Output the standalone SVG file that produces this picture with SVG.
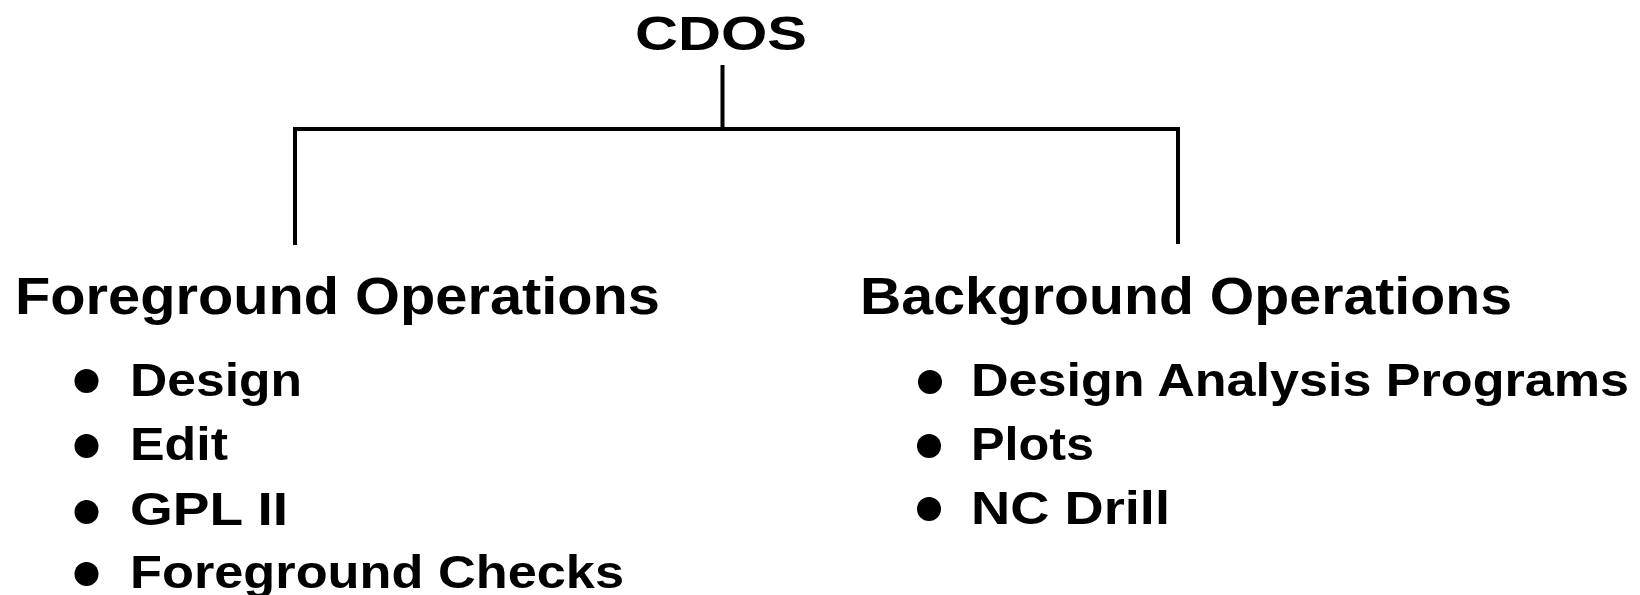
<svg xmlns="http://www.w3.org/2000/svg" width="1640" height="595" viewBox="0 0 1640 595">
<style>
text{font-family:"Liberation Sans",Arial,sans-serif;font-weight:bold;fill:#000}
.t{font-size:48px}
.h{font-size:51px}
.i{font-size:47px}
.c{stroke:#000;stroke-width:4;fill:none}
.b{fill:#000}
</style>
<rect width="1640" height="595" fill="#fff"/>
<g id="connectors">
<path class="c" d="M722.5 65 V129 M295 245 V129 H1178 V244"/>
</g>
<g id="cdos"><text class="t" x="635" y="50" textLength="172" lengthAdjust="spacingAndGlyphs">CDOS</text></g>
<g id="foreground">
<text class="h" x="15" y="314" textLength="645" lengthAdjust="spacingAndGlyphs">Foreground Operations</text>
<circle class="b" cx="86.5" cy="381" r="12"/>
<text class="i" x="130" y="396" textLength="172" lengthAdjust="spacingAndGlyphs">Design</text>
<circle class="b" cx="86.5" cy="446" r="12"/>
<text class="i" x="130" y="460" textLength="98" lengthAdjust="spacingAndGlyphs">Edit</text>
<circle class="b" cx="86.5" cy="512" r="12"/>
<text class="i" x="130" y="525" textLength="158" lengthAdjust="spacingAndGlyphs">GPL II</text>
<circle class="b" cx="86.5" cy="574" r="12"/>
<text class="i" x="130" y="588" textLength="494" lengthAdjust="spacingAndGlyphs">Foreground Checks</text>
</g>
<g id="background">
<text class="h" x="860" y="314" textLength="652" lengthAdjust="spacingAndGlyphs">Background Operations</text>
<circle class="b" cx="930" cy="382" r="12"/>
<text class="i" x="971" y="396" textLength="658" lengthAdjust="spacingAndGlyphs">Design Analysis Programs</text>
<circle class="b" cx="929" cy="446" r="12"/>
<text class="i" x="971" y="460" textLength="123" lengthAdjust="spacingAndGlyphs">Plots</text>
<circle class="b" cx="929" cy="509" r="12"/>
<text class="i" x="971" y="524" textLength="199" lengthAdjust="spacingAndGlyphs">NC Drill</text>
</g>
</svg>
